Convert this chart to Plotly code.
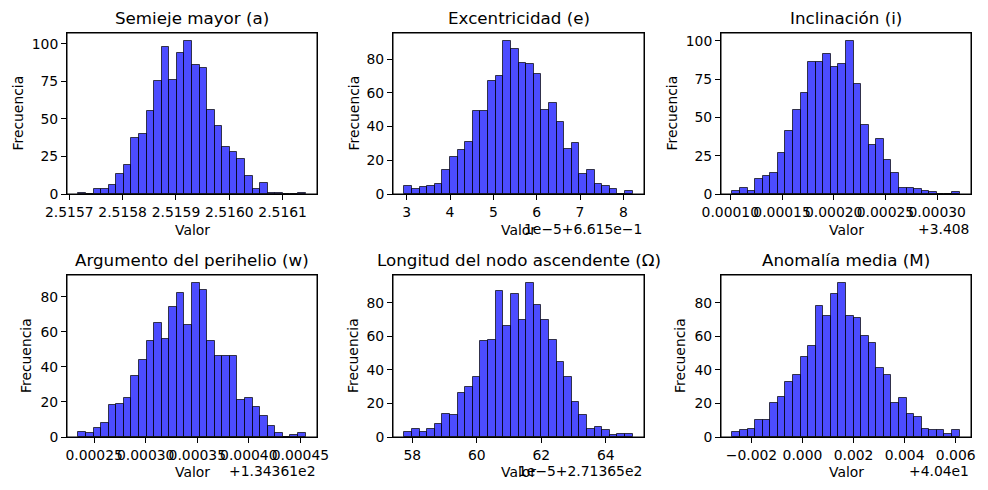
import numpy as np
import plotly.graph_objects as go

# ---------------- data ----------------
titles = ["Semieje mayor (a)", "Excentricidad (e)", "Inclinación (i)",
          "Argumento del perihelio (w)", "Longitud del nodo ascendente (Ω)", "Anomalía media (M)"]

# counts per bin (30 bins each)
semieje_counts = [1, 0, 3, 3, 6, 13, 19, 37, 40, 55, 75, 98, 76, 94, 102,
                  86, 84, 56, 45, 31, 28, 23, 12, 3, 7, 1, 1, 0, 0, 1]
excentricidad_counts = [5, 3, 4, 5, 6, 14, 22, 26, 31, 49, 49, 67, 70, 91, 86,
                        78, 77, 71, 50, 54, 43, 27, 30, 12, 14, 6, 5, 3, 0, 2]
inclinacion_counts = [2, 4, 2, 10, 12, 14, 27, 41, 55, 66, 86, 86, 91, 83, 85,
                      100, 72, 45, 32, 36, 22, 14, 4, 4, 3, 2, 1, 0, 0, 1]
perihelio_counts = [3, 2, 5, 8, 18, 19, 22, 35, 44, 55, 65, 56, 74, 82, 64,
                    88, 84, 55, 46, 46, 46, 21, 22, 17, 12, 6, 2, 0, 1, 2]
nodo_counts = [3, 5, 3, 5, 8, 14, 13, 26, 30, 36, 57, 58, 87, 66, 85,
               70, 92, 79, 70, 58, 45, 36, 21, 13, 5, 6, 4, 1, 2, 2]
anomalia_counts = [3, 4, 5, 10, 10, 20, 24, 33, 37, 48, 54, 78, 72, 85, 92,
                   72, 71, 60, 56, 41, 37, 20, 23, 14, 12, 5, 4, 4, 2, 4]

# data range (in displayed axis units, i.e. after matplotlib's offset)
semieje_range = [2.515717, 2.5161432]
excentricidad_range = [2.947, 8.214]          # x1e-5 + 0.6615
inclinacion_range = [0.000102, 0.0003217]     # + 3.408
perihelio_range = [0.0002347, 0.0004551]      # + 134.361
nodo_range = [57.754, 64.83]                  # x1e-5 + 271.365
anomalia_range = [-0.002748, 0.006155]        # + 40.4

# tick labels
semieje_ticks = [2.5157, 2.5158, 2.5159, 2.5160, 2.5161]
semieje_ticktext = ["2.5157", "2.5158", "2.5159", "2.5160", "2.5161"]
excentricidad_ticks = [3, 4, 5, 6, 7, 8]
excentricidad_ticktext = ["3", "4", "5", "6", "7", "8"]
inclinacion_ticks = [0.00010, 0.00015, 0.00020, 0.00025, 0.00030]
inclinacion_ticktext = ["0.00010", "0.00015", "0.00020", "0.00025", "0.00030"]
perihelio_ticks = [0.00025, 0.00030, 0.00035, 0.00040, 0.00045]
perihelio_ticktext = ["0.00025", "0.00030", "0.00035", "0.00040", "0.00045"]
nodo_ticks = [58, 60, 62, 64]
nodo_ticktext = ["58", "60", "62", "64"]
anomalia_ticks = [-0.002, 0.000, 0.002, 0.004, 0.006]
anomalia_ticktext = ["−0.002", "0.000", "0.002", "0.004", "0.006"]

offset_texts = ["", "1e−5+6.615e−1", "+3.408", "+1.34361e2", "1e−5+2.71365e2", "+4.04e1"]
y_dticks = [25, 20, 25, 20, 20, 20]

counts_list = [semieje_counts, excentricidad_counts, inclinacion_counts,
               perihelio_counts, nodo_counts, anomalia_counts]
ranges_list = [semieje_range, excentricidad_range, inclinacion_range,
               perihelio_range, nodo_range, anomalia_range]
ticks_list = [semieje_ticks, excentricidad_ticks, inclinacion_ticks,
              perihelio_ticks, nodo_ticks, anomalia_ticks]
ticktext_list = [semieje_ticktext, excentricidad_ticktext, inclinacion_ticktext,
                 perihelio_ticktext, nodo_ticktext, anomalia_ticktext]

# ---------------- layout ----------------
W, H = 988, 490
col_px = [(67, 317), (393, 644), (721, 971)]
row_px = [(33, 194), (275, 437)]
ylabel_x = [17, 353, 671, 26, 353, 680]
valor_y = [230, 472]

FONT = "DejaVu Sans"
fig = go.Figure()
annotations = []
shapes = []

def px_x(v):
    return v / W

def px_y(v):
    return 1 - v / H

for i in range(6):
    r, c = divmod(i, 3)
    counts = counts_list[i]
    lo, hi = ranges_list[i]
    edges = np.linspace(lo, hi, len(counts) + 1)
    centers = (edges[:-1] + edges[1:]) / 2
    bw = edges[1] - edges[0]
    ax = "" if i == 0 else str(i + 1)
    fig.add_trace(go.Bar(
        x=centers, y=counts, width=[bw] * len(counts),
        marker=dict(color="rgba(0,0,255,0.7)",
                    line=dict(color="rgba(0,0,0,0.7)", width=1)),
        xaxis="x" + ax, yaxis="y" + ax, showlegend=False,
    ))
    pad = (hi - lo) * 0.05
    ymax = max(counts) * 1.05
    x0, x1 = col_px[c]
    y0, y1 = row_px[r]
    common = dict(showline=True, mirror=True, linecolor="black", linewidth=1,
                  ticks="outside", ticklen=5, tickwidth=1, tickcolor="black",
                  showgrid=False, zeroline=False, tickangle=0, automargin=False,
                  tickfont=dict(family=FONT, size=13.9, color="black"))
    fig.update_layout(**{
        "xaxis" + ax: dict(domain=[px_x(x0), px_x(x1)], anchor="y" + ax,
                           range=[lo - pad, hi + pad], tickmode="array",
                           tickvals=ticks_list[i], ticktext=ticktext_list[i], **common),
        "yaxis" + ax: dict(domain=[px_y(y1), px_y(y0)], anchor="x" + ax,
                           range=[0, ymax], tickmode="linear", tick0=0,
                           dtick=y_dticks[i], **common),
    })
    shapes.append(dict(type="rect", xref="paper", yref="paper",
                       x0=px_x(x0), x1=px_x(x1), y0=px_y(y1), y1=px_y(y0),
                       line=dict(color="black", width=1), fillcolor="rgba(0,0,0,0)",
                       layer="above"))
    cx = (x0 + x1) / 2
    annotations.append(dict(text=titles[i], x=px_x(cx), y=px_y(y0), xref="paper", yref="paper",
                            xanchor="center", yanchor="bottom", yshift=3, showarrow=False,
                            font=dict(family=FONT, size=16.7, color="black")))
    annotations.append(dict(text="Valor", x=px_x(cx), y=px_y(valor_y[r]), xref="paper", yref="paper",
                            xanchor="center", yanchor="middle", showarrow=False,
                            font=dict(family=FONT, size=13.9, color="black")))
    annotations.append(dict(text="Frecuencia", x=px_x(ylabel_x[i]), y=px_y((y0 + y1) / 2),
                            xref="paper", yref="paper", xanchor="center", yanchor="middle",
                            textangle=-90, showarrow=False,
                            font=dict(family=FONT, size=13.9, color="black")))
    if offset_texts[i]:
        annotations.append(dict(text=offset_texts[i], x=px_x(x1), y=px_y(valor_y[r] - 1),
                                xref="paper", yref="paper", xanchor="right", yanchor="middle",
                                showarrow=False,
                                font=dict(family=FONT, size=13.9, color="black")))

fig.update_layout(width=W, height=H, margin=dict(l=0, r=0, t=0, b=0, autoexpand=False),
                  paper_bgcolor="white", plot_bgcolor="white",
                  annotations=annotations, shapes=shapes, bargap=0,
                  font=dict(family=FONT, size=13.9, color="black"))

fig.write_html("out.html", config={"displayModeBar": False},
               post_script="document.body.style.margin='0px';"
                           "document.body.style.padding='0px';"
                           "document.documentElement.style.overflow='hidden';")
